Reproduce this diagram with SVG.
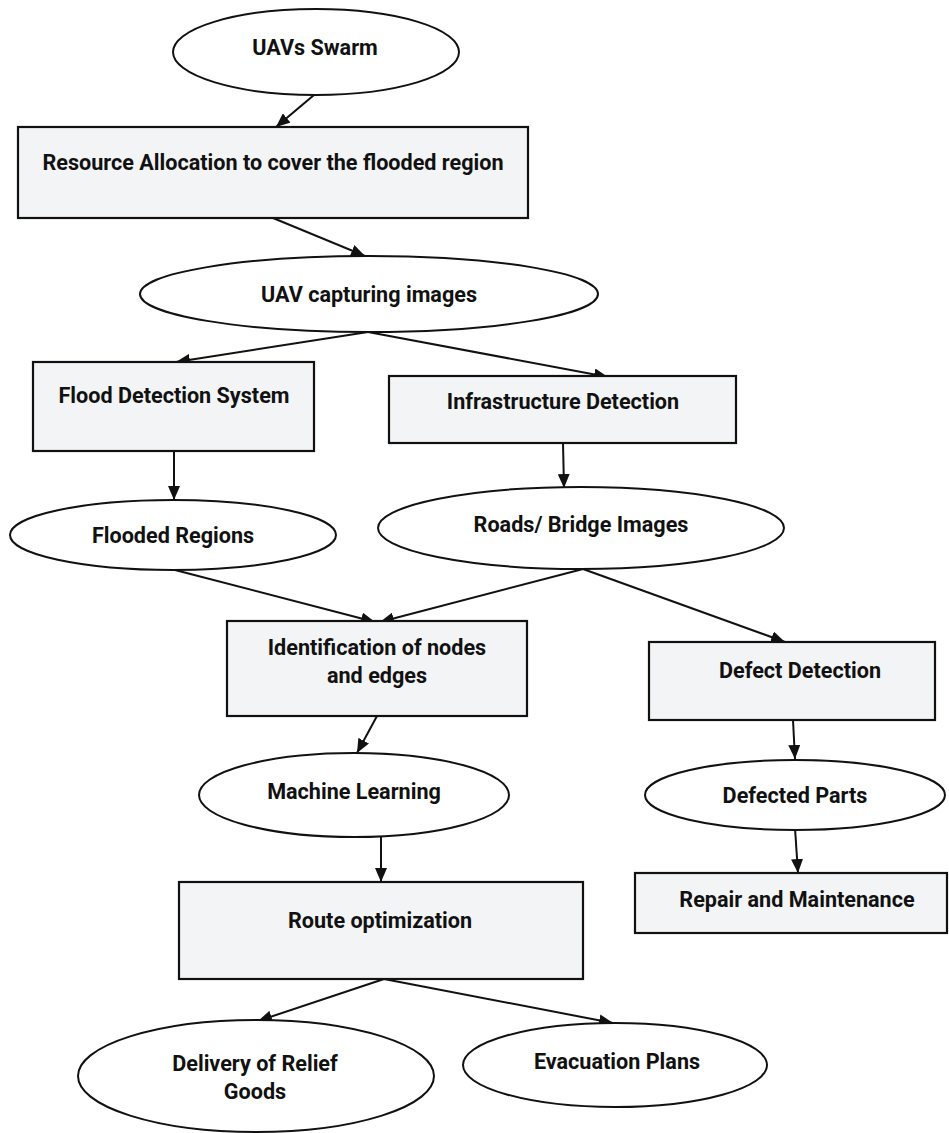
<svg xmlns="http://www.w3.org/2000/svg" width="949" height="1133" viewBox="0 0 949 1133">
  <style>
    .box { fill: #f3f4f6; stroke: #111; stroke-width: 2.2; }
    .oval { fill: #fff; stroke: #111; stroke-width: 2; }
    .lbl { font-family: Roboto, "Liberation Sans", sans-serif; font-weight: bold; font-size: 21.6px; fill: #111; text-anchor: middle; }
    .edge { stroke: #111; stroke-width: 2; fill: none; marker-end: url(#arrow); }
  </style>
  <defs>
    <marker id="arrow" viewBox="0 0 14 12" refX="14" refY="6" markerWidth="14" markerHeight="12" markerUnits="userSpaceOnUse" orient="auto">
      <path d="M0,0 L14,6 L0,12 z" fill="#111"/>
    </marker>
  </defs>

  <rect width="949" height="1133" fill="#fff"/>

  <!-- connectors -->
  <g id="connectors">
    <line class="edge" x1="314" y1="95" x2="276" y2="127"/>
    <line class="edge" x1="273" y1="218" x2="365" y2="256"/>
    <line class="edge" x1="368" y1="332" x2="176" y2="362"/>
    <line class="edge" x1="368" y1="332" x2="608" y2="377"/>
    <line class="edge" x1="174" y1="451" x2="174" y2="500"/>
    <line class="edge" x1="563" y1="443" x2="564" y2="488"/>
    <line class="edge" x1="175" y1="570" x2="375" y2="622"/>
    <line class="edge" x1="583" y1="569" x2="380" y2="622"/>
    <line class="edge" x1="583" y1="569" x2="785" y2="642"/>
    <line class="edge" x1="377" y1="716" x2="357" y2="753"/>
    <line class="edge" x1="381" y1="837" x2="381" y2="882"/>
    <line class="edge" x1="793" y1="720" x2="795" y2="759"/>
    <line class="edge" x1="795" y1="828" x2="798" y2="873"/>
    <line class="edge" x1="384" y1="979" x2="258" y2="1021"/>
    <line class="edge" x1="384" y1="979" x2="613" y2="1023"/>
  </g>

  <g id="uavs-swarm">
    <ellipse class="oval" cx="316" cy="52" rx="143" ry="43"/>
    <text class="lbl" x="315" y="55">UAVs Swarm</text>
  </g>

  <g id="resource-allocation">
    <rect class="box" x="18" y="127" width="510" height="91"/>
    <text class="lbl" x="273" y="170">Resource Allocation to cover the flooded region</text>
  </g>

  <g id="uav-capturing">
    <ellipse class="oval" cx="369" cy="294" rx="229" ry="38"/>
    <text class="lbl" x="369" y="302">UAV capturing images</text>
  </g>

  <g id="flood-detection">
    <rect class="box" x="33" y="362" width="281" height="89"/>
    <text class="lbl" x="174" y="403">Flood Detection System</text>
  </g>

  <g id="infrastructure-detection">
    <rect class="box" x="389" y="376" width="347" height="67"/>
    <text class="lbl" x="563" y="409">Infrastructure Detection</text>
  </g>

  <g id="flooded-regions">
    <ellipse class="oval" cx="173" cy="535" rx="163" ry="35"/>
    <text class="lbl" x="173" y="543">Flooded Regions</text>
  </g>

  <g id="roads-bridge">
    <ellipse class="oval" cx="581" cy="528" rx="203" ry="41"/>
    <text class="lbl" x="581" y="532">Roads/ Bridge Images</text>
  </g>

  <g id="identification">
    <rect class="box" x="227" y="621" width="300" height="95"/>
    <text class="lbl" x="377" y="655">Identification of nodes</text>
    <text class="lbl" x="377" y="683">and edges</text>
  </g>

  <g id="defect-detection">
    <rect class="box" x="649" y="642" width="286" height="78"/>
    <text class="lbl" x="800" y="678">Defect Detection</text>
  </g>

  <g id="machine-learning">
    <ellipse class="oval" cx="354" cy="795" rx="155" ry="42"/>
    <text class="lbl" x="354" y="799">Machine Learning</text>
  </g>

  <g id="defected-parts">
    <ellipse class="oval" cx="795" cy="795" rx="150" ry="35"/>
    <text class="lbl" x="795" y="803">Defected Parts</text>
  </g>

  <g id="repair-maintenance">
    <rect class="box" x="635" y="873" width="312" height="60"/>
    <text class="lbl" x="797" y="907">Repair and Maintenance</text>
  </g>

  <g id="route-optimization">
    <rect class="box" x="179" y="882" width="404" height="97"/>
    <text class="lbl" x="380" y="928">Route optimization</text>
  </g>

  <g id="delivery-relief">
    <ellipse class="oval" cx="256" cy="1076" rx="178" ry="56"/>
    <text class="lbl" x="255" y="1071">Delivery of Relief</text>
    <text class="lbl" x="255" y="1099">Goods</text>
  </g>

  <g id="evacuation-plans">
    <ellipse class="oval" cx="615" cy="1065" rx="152" ry="42"/>
    <text class="lbl" x="617" y="1069">Evacuation Plans</text>
  </g>
</svg>
